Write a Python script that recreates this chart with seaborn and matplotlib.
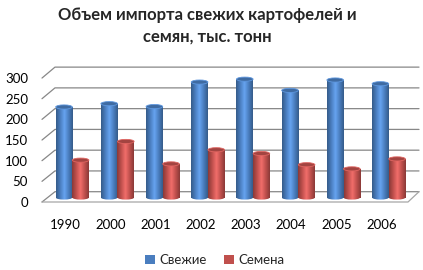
import numpy as np
import pandas as pd
import matplotlib
matplotlib.use("Agg")
import matplotlib.pyplot as plt
import matplotlib.transforms as mtransforms
from matplotlib.colors import LinearSegmentedColormap, to_rgb
from matplotlib.patches import Ellipse, Patch
import seaborn as sns

# ---- data ----
years = ["1990", "2000", "2001", "2002", "2003", "2004", "2005", "2006"]
fresh = [218, 226, 219, 278, 285, 258, 283, 274]
seeds = [90, 135, 81, 115, 106, 79, 69, 93]
series_names = ["Свежие", "Семена"]
title = "Объем импорта свежих картофелей и\nсемян, тыс. тонн"
y_ticks = [0, 50, 100, 150, 200, 250, 300]

df = pd.DataFrame({
    "year": years * 2,
    "value": fresh + seeds,
    "series": [series_names[0]] * len(years) + [series_names[1]] * len(years),
})

sns.set_style("white")
plt.rcParams["font.family"] = ["Lato", "DejaVu Sans"]

BLUE = "#4A7EBF"
RED = "#C0504D"

fig = plt.figure(figsize=(4.23, 2.70), dpi=100)
W, H = 423, 270
left_px, right_px, top_px, bot_px = 42, 419, 66.5, 202
ax = fig.add_axes([left_px / W, 1 - bot_px / H, (right_px - left_px) / W, (bot_px - top_px) / H])

sns.barplot(data=df, x="year", y="value", hue="series", palette=[BLUE, RED],
            width=0.735, saturation=1, ax=ax, legend=False, linewidth=0, zorder=3)

for s in ax.spines.values():
    s.set_visible(False)
ax.grid(False)

# 3-D-like walls: slanted side lines + back wall gridlines
back_off = 14.0
front_off = -10.8
wall_x = -0.383
floor_right = 7.427
for v in y_ticks:
    ax.plot([-0.670, wall_x, 7.670], [v * 0.995 + front_off, v + back_off, v + back_off],
            color="#878787", lw=0.9, zorder=1, clip_on=False)
ax.plot([-0.670, floor_right, 7.670], [front_off, front_off, back_off],
        color="#A6A6A6", lw=0.9, zorder=1, clip_on=False)

def shade_cmap(c):
    r, g, b = to_rgb(c)
    dark = (r * 0.72, g * 0.72, b * 0.72)
    light = (min(1, r * 1.18 + 0.06), min(1, g * 1.18 + 0.06), min(1, b * 1.18 + 0.06))
    return LinearSegmentedColormap.from_list("cyl", [dark, c, light, c, dark])

grad = np.linspace(0, 1, 64).reshape(1, -1)
for p in list(ax.patches):
    x, y0 = p.get_x(), p.get_y()
    w, h = p.get_width(), p.get_height()
    if h <= 0:
        continue
    fc = p.get_facecolor()
    cm = shade_cmap(fc[:3])
    cap_h = 10.0
    bot = Ellipse((x + w / 2, y0), w, cap_h, facecolor="none", edgecolor="none", zorder=2)
    ax.add_patch(bot)
    im2 = ax.imshow(grad, cmap=cm, extent=[x, x + w, y0 - cap_h, y0 + 1], aspect="auto",
                    zorder=3, interpolation="bilinear")
    im2.set_clip_path(bot)
    im = ax.imshow(grad, cmap=cm, extent=[x, x + w, y0, y0 + h], aspect="auto",
                   zorder=3.5, interpolation="bilinear")
    im.set_clip_path(p)
    r, g, b = fc[:3]
    cap = Ellipse((x + w / 2, y0 + h), w, cap_h,
                  facecolor=(r * 0.85, g * 0.85, b * 0.85),
                  edgecolor=(min(1, r * 1.1 + 0.05), min(1, g * 1.1 + 0.05), min(1, b * 1.1 + 0.05)),
                  lw=0.6, zorder=4)
    ax.add_patch(cap)

ax.set_xlim(-0.670, 7.670)
ax.set_ylim(-10.8, 315.5)

ax.set_yticks([v * 0.995 + front_off for v in y_ticks])
ax.set_yticklabels([str(v) for v in y_ticks])
ax.set_xlabel("")
ax.set_ylabel("")
ax.tick_params(axis="y", length=0, pad=10, labelsize=9.5, colors="#000000")
ax.tick_params(axis="x", length=0, pad=12, labelsize=9.5, colors="#000000")
offset = mtransforms.ScaledTranslation(-7.2 / 100, 0, fig.dpi_scale_trans)
for lab in ax.get_xticklabels():
    lab.set_transform(lab.get_transform() + offset)

fig.text(207 / W, 1 - 26 / H, title, ha="center", va="center", fontsize=12,
         fontweight="bold", linespacing=1.4)

handles = [Patch(facecolor=BLUE, edgecolor="none"), Patch(facecolor=RED, edgecolor="none")]
fig.legend(handles, series_names, loc="center", bbox_to_anchor=(215 / W, 1 - 260 / H),
           ncol=2, frameon=False, handlelength=0.75, handleheight=0.75,
           columnspacing=1.3, handletextpad=0.35, fontsize=9.5)

fig.savefig("out.png", dpi=100, facecolor="white")
